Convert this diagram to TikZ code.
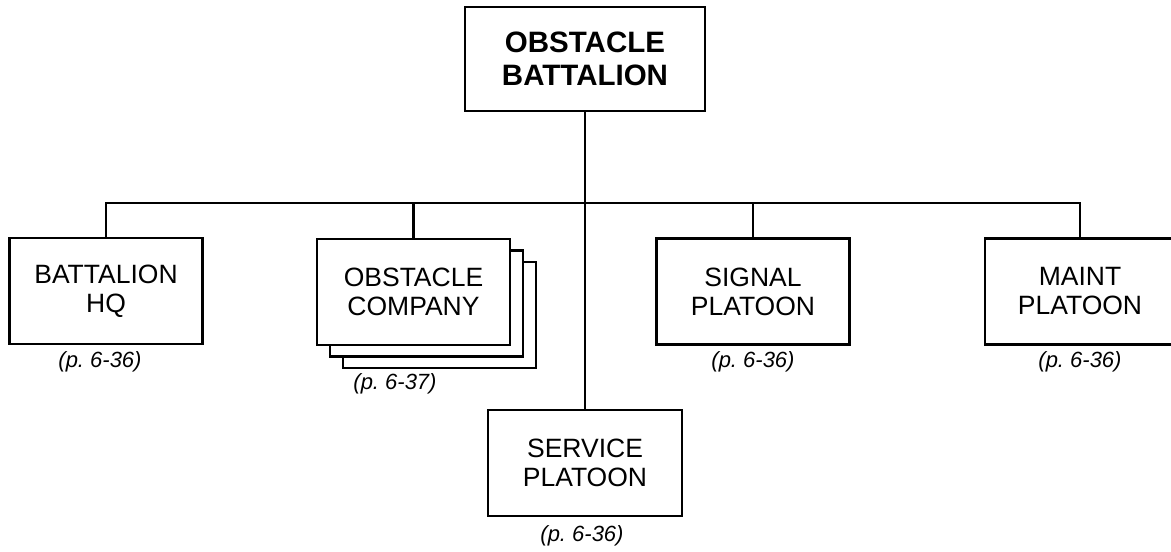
\documentclass[tikz,border=0pt]{standalone}
\usepackage{fontspec}
\setmainfont{Liberation Sans}
\frenchspacing
\begin{document}
\begin{tikzpicture}[x=1pt,y=-1pt,
  unit/.style={draw,line width=2.8pt,fill=white,rectangle,inner sep=0pt,
    minimum width=193pt,minimum height=106pt,align=center,
    font=\fontsize{26.5}{29}\selectfont},
  top/.style={unit,minimum width=240pt,minimum height=104pt,
    font=\bfseries\fontsize{29.5}{33}\selectfont},
  ref/.style={font=\itshape\fontsize{22}{24}\selectfont},
  wire/.style={line width=2.6pt}]
\useasboundingbox (0,0) rectangle (1171,552);
% stacked copies behind the obstacle company
\node[unit] (co3) at (439.5,315) {};
\node[unit] (co2) at (426.5,303.5) {};
\node[top] (bn) at (585,59) {OBSTACLE\\BATTALION};
\node[unit] (hq) at (106,291) {BATTALION\\HQ};
\node[unit] (co) at (413.5,292) {OBSTACLE\\COMPANY};
\node[unit] (sig) at (753,291.5) {SIGNAL\\PLATOON};
\node[unit,minimum width=190pt] (mnt) at (1080,291.5) {MAINT\\PLATOON};
\node[unit,minimum width=194pt] (svc) at (585,463) {SERVICE\\PLATOON};
\coordinate (busL) at (106,203);
\coordinate (busR) at (1080,203);
\coordinate (busC) at (585,203);
\draw[wire] (bn.south) -- (svc.north);
\draw[wire] (hq.north) -- (busL) -- (busR) -- (mnt.north);
\draw[wire] (co.north) -- (co.north |- busC);
\draw[wire] (sig.north) -- (sig.north |- busC);
\node[ref] (hqr) at (100,362) {(p. 6-36)};
\node[ref] (cor) at (395,384) {(p. 6-37)};
\node[ref] (sigr) at (753,362) {(p. 6-36)};
\node[ref] (mntr) at (1080,362) {(p. 6-36)};
\node[ref] (svcr) at (582,536) {(p. 6-36)};
\end{tikzpicture}
\end{document}
